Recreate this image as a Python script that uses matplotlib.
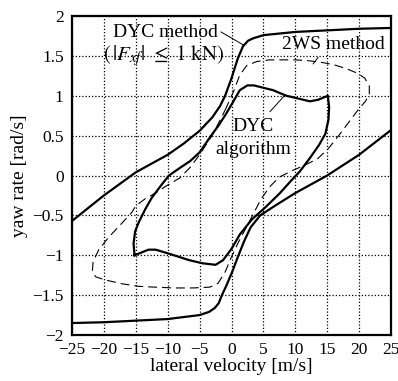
import matplotlib
matplotlib.use("Agg")
import matplotlib.pyplot as plt

plt.rcParams['font.family'] = ['Liberation Serif', 'DejaVu Serif']
plt.rcParams['mathtext.fontset'] = 'stix'
plt.rcParams['axes.unicode_minus'] = True

# Outer curve: DYC method (|Fxf| <= 1 kN)
outer_up_x = [-25, -20, -15, -10, -7.5, -5, -3, -1.8, -1.0, 0, 1.0, 1.8, 2.6, 3.4, 5, 7.5, 10, 15, 20, 25]
outer_up_y = [-0.57, -0.25, 0.04, 0.26, 0.40, 0.56, 0.73, 0.87, 1.0, 1.22, 1.47, 1.62, 1.69, 1.72, 1.76, 1.78, 1.80, 1.82, 1.84, 1.85]
outer_lo_x = [-25, -20, -15, -10, -5, -3.5, -2.6, -2.0, -1.5, -0.8, 0, 1.0, 2.0, 3.0, 4.5, 7, 10, 12.5, 15, 20, 25]
outer_lo_y = [-1.85, -1.84, -1.82, -1.80, -1.75, -1.71, -1.66, -1.60, -1.50, -1.38, -1.23, -1.02, -0.82, -0.65, -0.50, -0.37, -0.22, -0.11, 0.0, 0.26, 0.57]

# 2WS method (dashed loop)
ws_x = [-1.0, 0.3, 1.3, 2.4, 4, 6, 8, 10, 12, 14, 16, 18, 19.8, 20.9, 21.6, 21.6, 21.0, 20.0, 18.5, 16.8,
        15.2, 13.5, 11.5, 9.5, 7.5, 6, 4.6, 3.3, 2.0, 1.0, 0, -1.0, -2.1, -3.4, -6, -9, -12, -14.5, -17,
        -19.8, -21.3, -21.8, -21.7, -20.8, -19.2, -17.2, -15.6, -15.0, -13.5, -11.9, -10.4, -8.1, -6.5, -5,
        -2.9, -1.0]
ws_y = [0.82, 1.05, 1.26, 1.38, 1.43, 1.45, 1.45, 1.45, 1.44, 1.42, 1.39, 1.34, 1.28, 1.22, 1.12, 1.02,
        0.93, 0.84, 0.68, 0.50, 0.34, 0.21, 0.13, 0.06, -0.02, -0.14, -0.30, -0.50, -0.70, -0.85, -1.02,
        -1.21, -1.35, -1.40, -1.41, -1.41, -1.40, -1.39, -1.36, -1.31, -1.27, -1.20, -1.08, -0.93, -0.77,
        -0.60, -0.46, -0.38, -0.29, -0.22, -0.14, -0.03, 0.10, 0.26, 0.52, 0.82]

# DYC algorithm (solid inner loop)
alg_x = [-15.2, -15.35, -15.1, -14.5, -13.5, -12.5, -11, -9.8, -8, -6.5, -5, -3.2, -2, -0.8, 0.3, 1.3, 2.5,
         3.5, 5, 6.5, 8.6, 10.2, 12.3, 13.6, 15.1, 15.3, 15.2, 14.7, 13.7, 12.3, 10.7, 9.4, 7.6, 5.3, 3.2,
         1.3, 0, -1.3, -2.5, -4.6, -6.7, -9.8, -11.9, -13, -15.2]
alg_y = [-1.0, -0.85, -0.70, -0.58, -0.42, -0.28, -0.12, 0.0, 0.10, 0.18, 0.29, 0.5, 0.63, 0.78, 0.93, 1.07,
         1.13, 1.13, 1.10, 1.07, 1.0, 0.97, 0.93, 0.95, 1.0, 0.86, 0.70, 0.52, 0.38, 0.22, 0.05, -0.06,
         -0.22, -0.40, -0.55, -0.74, -0.92, -1.06, -1.12, -1.10, -1.06, -0.98, -0.93, -0.93, -1.0]

xticks = [-25, -20, -15, -10, -5, 0, 5, 10, 15, 20, 25]
yticks = [-2, -1.5, -1, -0.5, 0, 0.5, 1, 1.5, 2]
xtick_labels = ['\u221225', '\u221220', '\u221215', '\u221210', '\u22125', '0', '5', '10', '15', '20', '25']
ytick_labels = ['\u22122', '\u22121.5', '\u22121', '\u22120.5', '0', '0.5', '1', '1.5', '2']

fig = plt.figure(figsize=(3.98, 3.81), dpi=100)
ax = fig.add_axes([72/398, 1-335/381, (391-72)/398, (335-16)/381])

ax.plot(outer_up_x, outer_up_y, color='black', lw=1.6)
ax.plot(outer_lo_x, outer_lo_y, color='black', lw=1.6)
ax.plot(ws_x, ws_y, color='black', lw=0.8, dashes=(8, 4.5))
ax.plot(alg_x, alg_y, color='black', lw=1.6)

ax.set_xlim(-25, 25)
ax.set_ylim(-2, 2)
ax.set_xticks(xticks)
ax.set_xticklabels(xtick_labels)
ax.set_yticks(yticks)
ax.set_yticklabels(ytick_labels)
ax.tick_params(length=0, labelsize=12.5)
ax.tick_params(axis='x', pad=5)
ax.tick_params(axis='y', pad=6)
ax.grid(True, color='black', linestyle=(0, (1, 1.6)), lw=0.9)
for s in ax.spines.values():
    s.set_linewidth(1.6)

ax.set_xlabel('lateral velocity [m/s]', fontsize=14, labelpad=0)
ax.set_ylabel('yaw rate [rad/s]', fontsize=14, labelpad=3)

fs = 14
ax.text(-10.35, 1.79, 'DYC method', ha='center', va='center', fontsize=fs)
ax.text(-10.7, 1.50, r'$(\,|F_{xf}|\ \leq\ 1\ \mathrm{kN})$', ha='center', va='center', fontsize=fs + 1)
ax.plot([-1.65, 1.8], [1.80, 1.64], color='black', lw=0.7)

ax.text(16.0, 1.64, '2WS method', ha='center', va='center', fontsize=fs)
ax.plot([13.56, 12.8], [1.48, 1.40], color='black', lw=0.7)

ax.text(3.37, 0.61, 'DYC', ha='center', va='center', fontsize=fs)
ax.text(3.37, 0.32, 'algorithm', ha='center', va='center', fontsize=fs)
ax.plot([6.03, 8.4], [0.80, 1.01], color='black', lw=0.7)

fig.savefig('out.png', dpi=100)
